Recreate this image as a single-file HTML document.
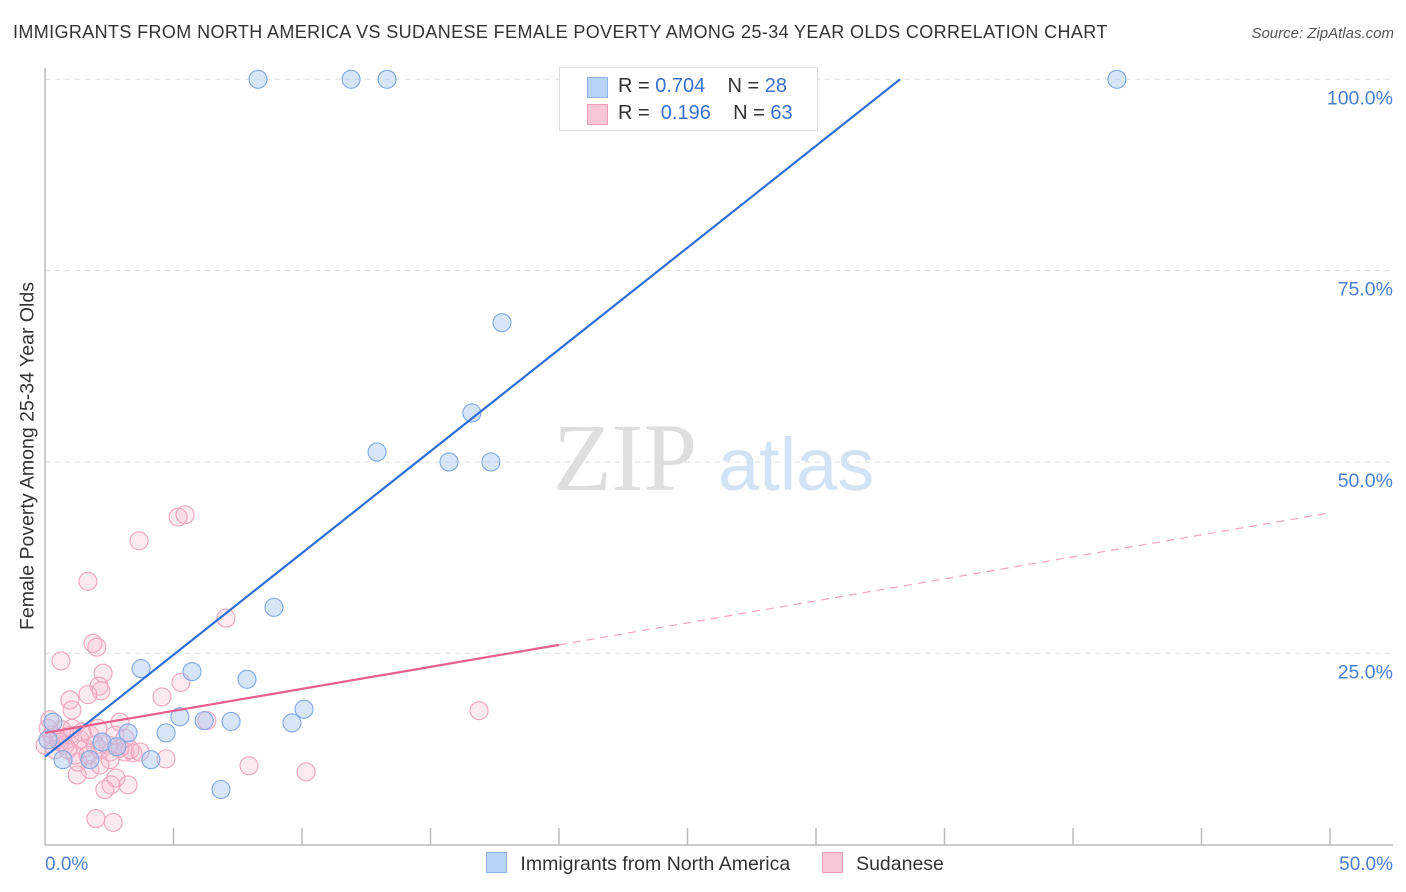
<!DOCTYPE html>
<html><head><meta charset="utf-8"><style>
body{margin:0;background:#fff;font-family:"Liberation Sans",sans-serif;}
#wrap{position:relative;width:1406px;height:892px;overflow:hidden;}
.t{position:absolute;white-space:nowrap;}
</style></head><body>
<div id="wrap">
<div class="t" style="left:13px;top:22px;font-size:18px;letter-spacing:0.38px;color:#333;">IMMIGRANTS FROM NORTH AMERICA VS SUDANESE FEMALE POVERTY AMONG 25-34 YEAR OLDS CORRELATION CHART</div>
<div class="t" style="right:12px;top:25px;font-size:15px;color:#555;font-style:italic;">Source: ZipAtlas.com</div>
<svg id="svg" width="1406" height="892" style="position:absolute;left:0;top:0"></svg>
</div>
<script>
const yTicks=[25,50,75,100];
const yTickLabels=["25.0%","50.0%","75.0%","100.0%"];
const xTickLabels=["0.0%","50.0%"];
const blueX=[8.29,11.91,13.31,41.71,17.78,16.61,12.92,15.72,17.35,8.91,3.74,5.72,7.86,5.25,6.19,7.24,9.61,10.08,3.23,4.71,4.12,6.85,0.31,0.70,1.75,2.22,2.80,0.12];
const blueY=[100,100,100,100,68.2,56.4,51.3,50.0,50.0,31.0,23.0,22.6,21.6,16.7,16.2,16.1,15.9,17.7,14.6,14.6,11.1,7.2,16.0,11.1,11.1,13.4,12.8,13.7];
const pinkX=[1.67,1.87,2.02,0.62,2.26,2.10,2.18,1.67,0.97,1.05,2.92,7.04,5.29,4.55,6.30,4.71,7.94,10.16,2.76,2.57,2.33,3.23,1.98,2.65,3.42,3.11,2.53,1.75,1.25,3.66,5.18,5.45,16.89,0.12,0.27,0.51,0.78,0.39,0.97,1.36,1.56,1.95,1.17,0.66,2.14,2.45,1.75,2.92,0.0,0.19,0.89,1.28,2.53,3.31,2.72,0.58,1.67,2.14,1.05,1.44,2.06,3.11,3.70];
const pinkY=[34.4,26.3,25.8,24.0,22.4,20.7,20.1,19.6,18.9,17.6,16.0,29.6,21.2,19.3,16.2,11.2,10.3,9.5,8.7,7.8,7.2,7.8,3.4,2.9,12.0,12.1,12.1,9.8,9.1,39.7,42.8,43.1,17.5,15.2,14.3,13.7,13.0,12.4,14.3,13.7,12.6,13.0,11.7,15.0,12.4,13.0,14.3,12.6,13.0,16.3,12.4,10.8,11.1,12.4,14.3,13.4,11.7,10.4,15.2,14.7,15.2,13.9,12.1];
const blueTrend=[11.5,2.66]; // intercept, slope
const pinkTrend=[14.6,0.575];
const pinkSolidEnd=20;

const X=v=>45+v*25.7, Y=v=>844.6-v*7.653;
const svg=document.getElementById('svg');const NS='http://www.w3.org/2000/svg';
function mk(t,a){const e=document.createElementNS(NS,t);for(const k in a)e.setAttribute(k,a[k]);svg.appendChild(e);return e;}
yTicks.forEach((v,i)=>{
 const g=mk('line',{x1:45,x2:1393,y1:Y(v),y2:Y(v),stroke:'#dddddd','stroke-dasharray':'5,5'});
 
 
 const t=mk('text',{x:1393,y:Y(v)+25,'text-anchor':'end','font-size':19.5,fill:'#4a7fd0','font-family':'Liberation Sans'});
 t.textContent=yTickLabels[i];
 
 
});
let a=mk('line',{x1:45,x2:45,y1:68,y2:845,stroke:'#bbb','stroke-width':1.5});


a=mk('line',{x1:45,x2:1393,y1:845,y2:845,stroke:'#bbb','stroke-width':1.5});


for(let i=1;i<=10;i++){const tk=mk('line',{x1:X(i*5),x2:X(i*5),y1:828,y2:845,stroke:'#bbb','stroke-width':1.5});
 
 }
[[0,'start',45],[1,'end',1393]].forEach(([i,an,x])=>{const t=mk('text',{x:x,y:870,'text-anchor':an,'font-size':19,fill:'#4a7fd0','font-family':'Liberation Sans'});t.textContent=xTickLabels[i];
 
 });
let w=mk('text',{x:553,y:490,'font-size':96,fill:'#dedede','font-family':'Liberation Serif'});w.textContent='ZIP';


w=mk('text',{x:718,y:490,'font-size':74,fill:'#d3e3f6','font-family':'Liberation Sans'});w.textContent='atlas';


pinkX.forEach((v,i)=>{const c=mk('circle',{cx:X(v),cy:Y(pinkY[i]),r:9,fill:'rgba(248,185,205,0.3)',stroke:'#f0a3bd','stroke-width':1.1});
 
 });
blueX.forEach((v,i)=>{const c=mk('circle',{cx:X(v),cy:Y(blueY[i]),r:9,fill:'rgba(165,198,240,0.45)',stroke:'#7ea8e4','stroke-width':1.1});
 
 });
const bx2=(100-blueTrend[0])/blueTrend[1];
let l=mk('line',{x1:X(0),y1:Y(blueTrend[0]),x2:X(bx2),y2:Y(100),stroke:'#2f6fd6','stroke-width':2.2});


l=mk('line',{x1:X(0),y1:Y(pinkTrend[0]),x2:X(pinkSolidEnd),y2:Y(pinkTrend[0]+pinkTrend[1]*pinkSolidEnd),stroke:'#e8608e','stroke-width':2.2});


l=mk('line',{x1:X(pinkSolidEnd),y1:Y(pinkTrend[0]+pinkTrend[1]*pinkSolidEnd),x2:X(50),y2:Y(pinkTrend[0]+pinkTrend[1]*50),stroke:'#f0a3bd','stroke-width':1.2,'stroke-dasharray':'8,6'});


</script>
<div style="position:absolute;left:559px;top:67px;width:257px;height:62px;border:1px solid #ddd;background:#fff;font-size:20px;">
 <div style="position:absolute;left:27px;top:9px;width:19px;height:19px;background:#b8d3f6;border:1px solid #8fb4e8;"></div>
 <div class="t" style="left:58px;top:7px;color:#333;">R = <span style="color:#3a70cc">0.704</span>&nbsp;&nbsp;&nbsp; N = <span style="color:#3a70cc">28</span></div>
 <div style="position:absolute;left:27px;top:36px;width:19px;height:19px;background:#f9c6d6;border:1px solid #eda0bb;"></div>
 <div class="t" style="left:58px;top:34px;color:#333;">R = &nbsp;<span style="color:#3a70cc">0.196</span>&nbsp;&nbsp;&nbsp; N = <span style="color:#3a70cc">63</span></div>
</div>
<div class="t" style="left:28px;top:456px;font-size:19.5px;color:#333;transform:translate(-50%,-50%) rotate(-90deg);">Female Poverty Among 25-34 Year Olds</div>
<div style="position:absolute;left:486px;top:852px;font-size:19.5px;color:#333;">
 <span style="display:inline-block;width:19px;height:19px;background:#b8d3f6;border:1px solid #8fb4e8;vertical-align:-3px;"></span>
 <span style="margin-left:8px;">Immigrants from North America</span>
 <span style="display:inline-block;width:19px;height:19px;background:#f9c6d6;border:1px solid #eda0bb;vertical-align:-3px;margin-left:26px;"></span>
 <span style="margin-left:8px;">Sudanese</span>
</div>
</body></html>
